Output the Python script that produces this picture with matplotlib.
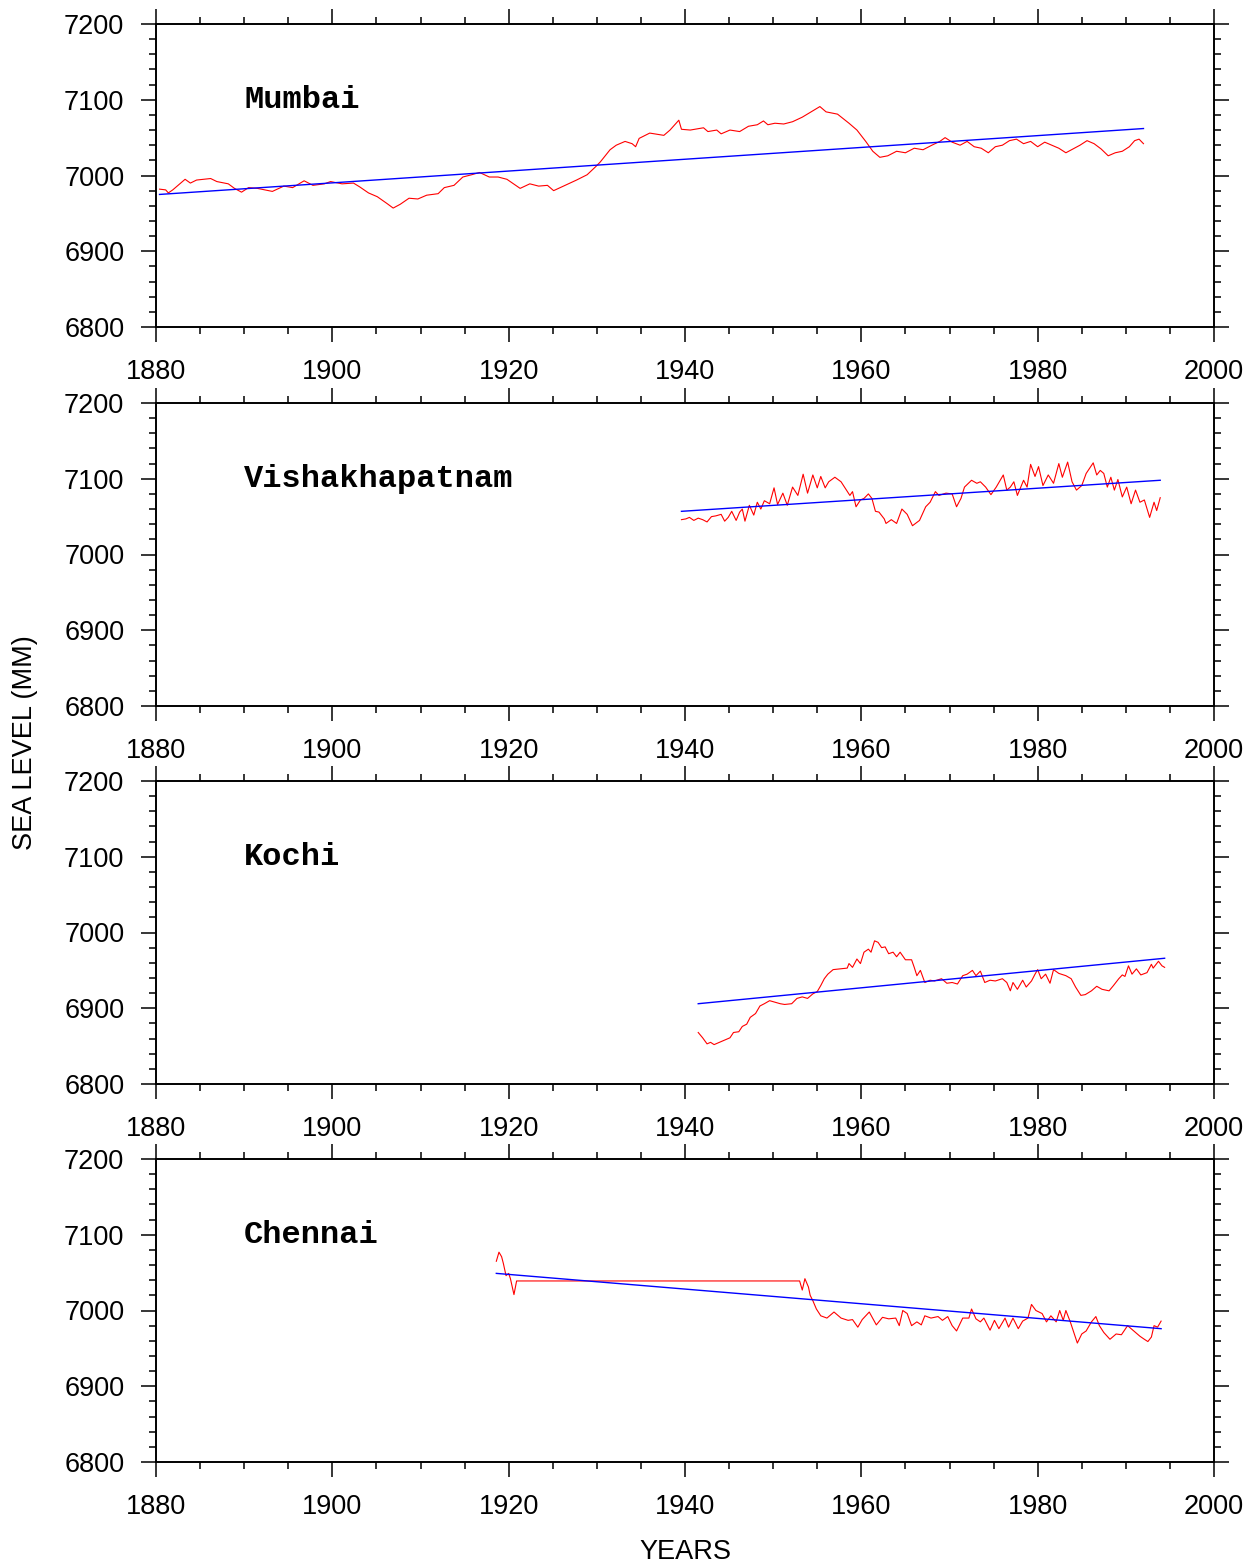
import matplotlib
matplotlib.use("Agg")
import matplotlib.pyplot as plt
from matplotlib.ticker import MultipleLocator

plt.rcParams['font.family'] = ['Liberation Sans', 'DejaVu Sans']

# ---------------- data ----------------
mumbai_years = [1880.4, 1881.1, 1881.4, 1881.9, 1883.3, 1883.9, 1884.6, 1886.2, 1886.9, 1888.2,
                1888.9, 1889.7, 1890.5, 1891.5, 1893.2, 1894.5, 1895.5, 1896.8, 1897.8, 1899.1,
                1899.8, 1901.1, 1902.4, 1903.1, 1904.1, 1905.1, 1906.2, 1906.9, 1907.7, 1908.7,
                1909.7, 1910.7, 1912.0, 1912.7, 1913.8, 1914.8, 1915.8, 1916.7, 1917.8, 1918.8,
                1919.8, 1921.3, 1922.4, 1923.4, 1924.4, 1925.1, 1926.4, 1927.7, 1928.9, 1929.9,
                1930.4, 1931.5, 1932.2, 1933.2, 1934.0, 1934.4, 1934.8, 1936.0, 1937.6, 1938.3,
                1939.3, 1939.6, 1940.6, 1942.1, 1942.6, 1943.6, 1944.1, 1945.1, 1946.2, 1947.2,
                1948.2, 1948.9, 1949.4, 1950.2, 1951.2, 1952.2, 1953.3, 1954.3, 1955.3, 1956.0,
                1957.3, 1958.6, 1959.5, 1960.5, 1961.3, 1962.1, 1963.0, 1964.0, 1965.0, 1966.0,
                1967.0, 1968.0, 1968.9, 1969.5, 1970.3, 1971.2, 1972.0, 1972.8, 1973.6, 1974.4,
                1975.2, 1976.0, 1976.8, 1977.6, 1978.4, 1979.2, 1980.0, 1980.8, 1981.6, 1982.4,
                1983.2, 1984.0, 1984.8, 1985.6, 1986.4, 1987.2, 1988.0, 1988.8, 1989.6, 1990.4,
                1991.0, 1991.5, 1992.0]
mumbai_level = [6982, 6981, 6977, 6981, 6995, 6990, 6994, 6996, 6992, 6989,
                6983, 6978, 6984, 6983, 6979, 6986, 6984, 6993, 6987, 6989,
                6992, 6989, 6990, 6985, 6977, 6972, 6963, 6957, 6962, 6970,
                6969, 6974, 6976, 6984, 6987, 6998, 7001, 7004, 6998, 6998,
                6995, 6983, 6989, 6986, 6987, 6980, 6987, 6994, 7001, 7012,
                7018, 7034, 7040, 7045, 7042, 7038, 7049, 7056, 7053, 7060,
                7073, 7061, 7060, 7063, 7058, 7060, 7055, 7060, 7058, 7065,
                7067, 7072, 7067, 7069, 7068, 7071, 7077, 7084, 7091, 7084,
                7081, 7069, 7060, 7045, 7032, 7024, 7026, 7032, 7030, 7036,
                7034, 7040, 7045, 7050, 7044, 7040, 7045, 7038, 7036, 7030,
                7038, 7040, 7046, 7048, 7042, 7045, 7038, 7044, 7040, 7036,
                7030, 7035, 7040, 7046, 7042, 7035, 7026, 7030, 7032, 7038,
                7046, 7048, 7042]
mumbai_trend_years = [1880.4, 1992.0]
mumbai_trend_level = [6975, 7062]

vizag_years = [1939.6, 1940.1, 1940.5, 1941.0, 1941.5, 1942.0, 1942.5, 1943.0, 1943.5, 1944.1,
               1944.5, 1944.9, 1945.3, 1945.8, 1946.2, 1946.5, 1946.8, 1947.3, 1947.8, 1948.2,
               1948.6, 1949.0, 1949.6, 1950.1, 1950.5, 1951.1, 1951.6, 1952.2, 1952.8, 1953.4,
               1953.9, 1954.5, 1955.0, 1955.4, 1955.9, 1956.3, 1957.0, 1957.7, 1958.2, 1958.7,
               1959.0, 1959.4, 1959.9, 1960.3, 1960.8, 1961.2, 1961.6, 1962.0, 1962.6, 1962.8,
               1963.4, 1964.0, 1964.6, 1965.2, 1965.8, 1966.6, 1967.3, 1967.8, 1968.4, 1968.8,
               1969.6, 1970.3, 1970.8, 1971.3, 1971.7, 1972.5, 1973.1, 1973.5, 1974.1, 1974.7,
               1975.3, 1976.1, 1976.5, 1976.9, 1977.3, 1977.7, 1978.4, 1978.8, 1979.2, 1979.7,
               1980.1, 1980.6, 1981.2, 1981.8, 1982.4, 1982.8, 1983.4, 1983.9, 1984.4, 1985.0,
               1985.5, 1986.3, 1986.7, 1987.1, 1987.5, 1987.9, 1988.3, 1988.7, 1989.1, 1989.6,
               1990.1, 1990.6, 1991.1, 1991.6, 1992.1, 1992.7, 1993.2, 1993.5, 1993.9]
vizag_level = [7046, 7047, 7049, 7045, 7048, 7046, 7043, 7050, 7051, 7053,
               7044, 7049, 7057, 7045, 7056, 7060, 7044, 7065, 7052, 7069,
               7060, 7071, 7067, 7088, 7066, 7081, 7065, 7089, 7078, 7106,
               7081, 7105, 7088, 7103, 7088, 7096, 7102, 7096, 7087, 7078,
               7083, 7063, 7072, 7074, 7080, 7074, 7057, 7056, 7047, 7041,
               7046, 7041, 7060, 7053, 7038, 7045, 7063, 7069, 7083, 7078,
               7081, 7080, 7063, 7074, 7089, 7098, 7094, 7096, 7089, 7079,
               7089, 7105, 7085, 7089, 7096, 7078, 7098, 7089, 7119, 7103,
               7116, 7091, 7105, 7094, 7120, 7102, 7122, 7096, 7085, 7091,
               7107, 7121, 7105, 7111, 7107, 7089, 7102, 7085, 7099, 7076,
               7089, 7067, 7085, 7069, 7072, 7049, 7069, 7058, 7075]
vizag_trend_years = [1939.6, 1993.9]
vizag_trend_level = [7057, 7098]

kochi_years = [1941.5, 1942.0, 1942.5, 1942.9, 1943.3, 1943.9, 1944.5, 1945.1, 1945.5, 1946.1,
               1946.5, 1947.0, 1947.4, 1948.0, 1948.5, 1949.0, 1949.6, 1950.2, 1950.8, 1951.3,
               1952.1, 1952.7, 1953.3, 1953.9, 1954.5, 1955.0, 1955.4, 1955.8, 1956.2, 1956.8,
               1957.6, 1958.4, 1958.6, 1959.0, 1959.5, 1959.9, 1960.3, 1960.8, 1961.1, 1961.5,
               1961.9, 1962.3, 1962.7, 1963.1, 1963.6, 1964.0, 1964.4, 1965.0, 1965.7, 1966.0,
               1966.3, 1966.7, 1967.2, 1967.8, 1968.3, 1969.1, 1969.7, 1970.3, 1970.9, 1971.5,
               1972.0, 1972.6, 1973.0, 1973.5, 1974.0, 1974.6, 1975.2, 1976.0, 1976.5, 1976.9,
               1977.2, 1977.7, 1978.3, 1978.7, 1979.3, 1979.7, 1980.0, 1980.4, 1980.9, 1981.4,
               1981.8, 1982.4, 1983.2, 1983.8, 1984.3, 1984.9, 1985.4, 1986.1, 1986.7, 1987.3,
               1988.1, 1988.6, 1989.2, 1989.6, 1989.9, 1990.3, 1990.7, 1991.2, 1991.7, 1992.4,
               1992.9, 1993.1, 1993.7, 1994.1, 1994.4]
kochi_level = [6868, 6861, 6853, 6855, 6852, 6855, 6858, 6861, 6868, 6869,
               6876, 6879, 6888, 6893, 6903, 6906, 6910, 6908, 6906, 6905,
               6906, 6913, 6915, 6913, 6919, 6922, 6930, 6939, 6945, 6951,
               6952, 6953, 6959, 6954, 6965, 6959, 6974, 6978, 6974, 6989,
               6987, 6980, 6981, 6972, 6974, 6968, 6974, 6964, 6964, 6954,
               6943, 6950, 6934, 6937, 6936, 6939, 6933, 6934, 6932, 6943,
               6945, 6950, 6943, 6949, 6934, 6937, 6936, 6939, 6934, 6923,
               6934, 6925, 6937, 6928, 6936, 6945, 6951, 6939, 6945, 6933,
               6951, 6946, 6943, 6939, 6928, 6917, 6918, 6923, 6929, 6925,
               6923, 6930, 6939, 6944, 6942, 6956, 6945, 6952, 6944, 6947,
               6958, 6953, 6962, 6956, 6954]
kochi_trend_years = [1941.5, 1994.4]
kochi_trend_level = [6906, 6966]

chennai_years = [1918.6, 1918.9, 1919.2, 1919.4, 1919.7, 1920.0, 1920.2, 1920.6, 1920.9, 1953.0,
                 1953.3, 1953.6, 1954.0, 1954.2, 1954.5, 1954.9, 1955.4, 1956.1, 1956.9, 1957.7,
                 1958.5, 1959.0, 1959.6, 1960.1, 1960.9, 1961.7, 1962.4, 1963.1, 1963.9, 1964.3,
                 1964.7, 1965.2, 1965.7, 1966.3, 1966.8, 1967.2, 1967.9, 1968.7, 1969.2, 1969.8,
                 1970.3, 1970.8, 1971.5, 1972.2, 1972.5, 1973.0, 1973.5, 1973.9, 1974.6, 1975.1,
                 1975.6, 1976.3, 1976.7, 1977.2, 1977.8, 1978.3, 1978.9, 1979.3, 1979.8, 1980.5,
                 1981.0, 1981.5, 1982.1, 1982.5, 1982.9, 1983.2, 1983.7, 1984.1, 1984.5, 1985.0,
                 1985.5, 1986.1, 1986.6, 1987.0, 1987.5, 1988.2, 1988.9, 1989.5, 1990.2, 1990.6,
                 1991.1, 1991.6, 1992.1, 1992.5, 1992.9, 1993.2, 1993.6, 1994.0]
chennai_level = [7065, 7077, 7071, 7062, 7046, 7049, 7042, 7021, 7039, 7039,
                 7027, 7042, 7031, 7020, 7013, 7002, 6993, 6990, 6998, 6990,
                 6987, 6988, 6978, 6988, 6998, 6981, 6991, 6989, 6990, 6980,
                 7000, 6996, 6980, 6985, 6981, 6993, 6990, 6992, 6987, 6992,
                 6980, 6973, 6990, 6990, 7002, 6989, 6985, 6990, 6974, 6987,
                 6976, 6990, 6978, 6990, 6976, 6986, 6990, 7008, 7000, 6996,
                 6985, 6993, 6985, 7000, 6987, 7000, 6985, 6971, 6957, 6969,
                 6973, 6985, 6992, 6980, 6971, 6962, 6969, 6968, 6980, 6976,
                 6971, 6966, 6962, 6959, 6965, 6980, 6978, 6986]
chennai_trend_years = [1918.6, 1994.0]
chennai_trend_level = [7049, 6976]

stations = ["Mumbai", "Vishakhapatnam", "Kochi", "Chennai"]
series = [(mumbai_years, mumbai_level, mumbai_trend_years, mumbai_trend_level),
          (vizag_years, vizag_level, vizag_trend_years, vizag_trend_level),
          (kochi_years, kochi_level, kochi_trend_years, kochi_trend_level),
          (chennai_years, chennai_level, chennai_trend_years, chennai_trend_level)]

x_ticks = [1880, 1900, 1920, 1940, 1960, 1980, 2000]
y_ticks = [6800, 6900, 7000, 7100, 7200]

# ---------------- figure ----------------
W, H = 1258, 1566
fig = plt.figure(figsize=(W / 100, H / 100), dpi=100)

left_px, right_px = 156, 1214
panel_tops = [24, 403, 781, 1159]
panel_h = 303

for i, (name, (yrs, lev, tyrs, tlev)) in enumerate(zip(stations, series)):
    top = panel_tops[i]
    ax = fig.add_axes([left_px / W, 1 - (top + panel_h) / H,
                       (right_px - left_px) / W, panel_h / H])
    ax.plot(yrs, lev, color='#ff0000', lw=0.8)
    ax.plot(tyrs, tlev, color='#0000ff', lw=1.0)
    ax.set_xlim(1880, 2000)
    ax.set_ylim(6800, 7200)
    ax.set_xticks(x_ticks)
    ax.set_yticks(y_ticks)
    ax.xaxis.set_minor_locator(MultipleLocator(5))
    ax.yaxis.set_minor_locator(MultipleLocator(20))
    ax.tick_params(which='both', direction='out', top=True, right=True,
                   labeltop=False, labelright=False, width=1.1, color='black')
    ax.tick_params(which='major', length=10.8, labelsize=19.5, pad=12)
    ax.tick_params(which='minor', length=5)
    for sp in ax.spines.values():
        sp.set_linewidth(1.4)
    ax.text(1890, 7100, name, family=['Liberation Mono', 'DejaVu Sans Mono'],
            fontweight='bold', fontsize=23, ha='left', va='center')

fig.text(25 / W, 1 - 742.5 / H, "SEA LEVEL (MM)", rotation=90, ha='center',
         va='center', fontsize=19.5)
fig.text(685 / W, 1 - 1552 / H, "YEARS", ha='center', va='center', fontsize=19.5)

fig.savefig("out.png", dpi=100)
